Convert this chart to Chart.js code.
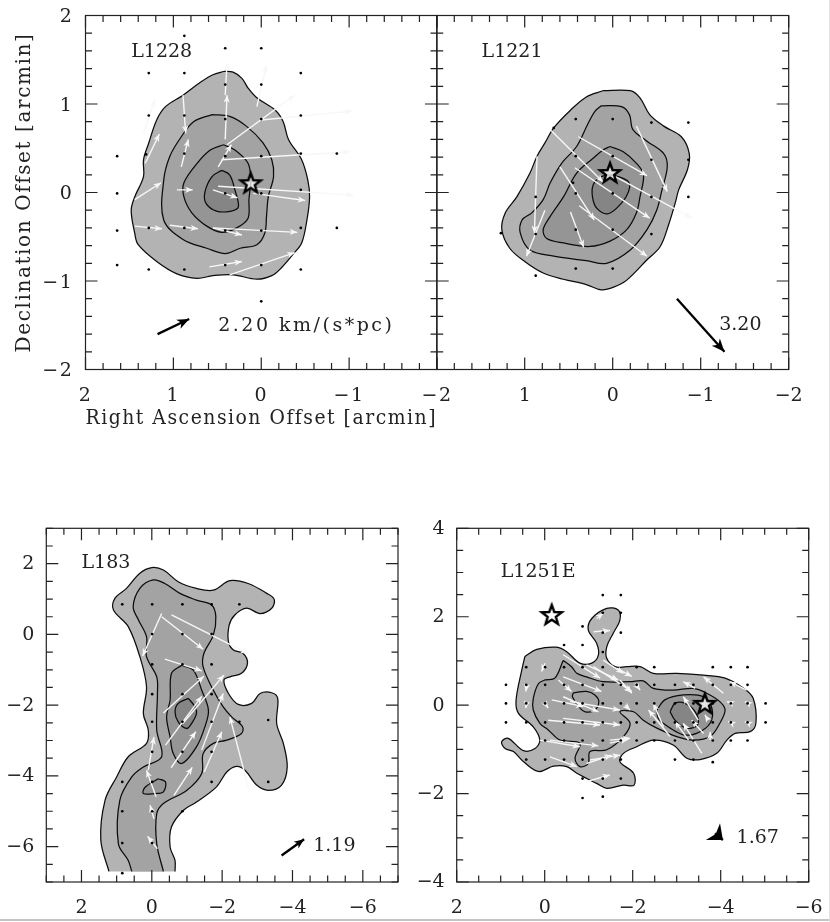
<!DOCTYPE html>
<html><head><meta charset="utf-8">
<style>
html,body{margin:0;padding:0;background:#fff;width:830px;height:922px;overflow:hidden}
canvas{position:absolute;display:block}
.edge{position:absolute;background:#c4c4c4}
</style>
<script src="https://cdn.jsdelivr.net/npm/chart.js@4"></script>
</head><body>
<div class="edge" style="left:0;top:919px;width:830px;height:2px"></div>
<div class="edge" style="left:829px;top:0;width:1px;height:922px;background:#e4e4e4"></div>
<canvas id="a" width="470" height="440" style="left:0;top:0"></canvas>
<canvas id="b" width="430" height="440" style="left:400px;top:0"></canvas>
<canvas id="c" width="420" height="422" style="left:0;top:500px"></canvas>
<canvas id="d" width="420" height="422" style="left:410px;top:500px"></canvas>
<script>
// ---------- L1228 ----------
const L1228_level1=[[.42,1.37],[.32,1.36],[.22,1.29],[.15,1.18],[.05,1.07],[-.16,.93],[-.25,.80],[-.31,.60],[-.46,.37],[-.53,.14],[-.55,-.05],[-.52,-.31],[-.46,-.57],[-.36,-.70],[-.23,-.85],[-.12,-.94],[.05,-.98],[.32,-.93],[.55,-.94],[.73,-.97],[.96,-.92],[1.19,-.78],[1.40,-.59],[1.44,-.46],[1.48,-.20],[1.44,-.05],[1.34,.18],[1.34,.37],[1.28,.56],[1.19,.82],[1.09,.97],[.89,1.10],[.70,1.24],[.55,1.33],[.42,1.37]];
const L1228_level2=[[.56,.88],[.36,.86],[.17,.75],[-.02,.56],[-.12,.37],[-.14,.18],[-.08,-.05],[-.06,-.27],[-.04,-.46],[.05,-.59],[.24,-.63],[.41,-.69],[.62,-.63],[.89,-.53],[1.11,-.31],[1.11,.14],[1.04,.41],[.91,.63],[.77,.80],[.56,.88]];
const L1228_level3=[[.43,.54],[.30,.48],[.15,.33],[.12,.14],[.14,-.08],[.15,-.29],[.28,-.40],[.45,-.45],[.62,-.38],[.79,-.23],[.88,-.05],[.88,.11],[.73,.33],[.58,.48],[.43,.54]];
const L1228_level4=[[.45,.25],[.36,.20],[.30,.03],[.26,-.16],[.34,-.21],[.51,-.21],[.63,-.12],[.64,.01],[.56,.18],[.45,.25]];
const L1228_dots=[[1.64,.41],[1.64,-.01],[1.64,-.43],[1.64,-.82],[1.28,1.35],[1.28,.87],[1.31,.43],[1.28,-.40],[1.28,-.87],[.875,1.77],[.875,1.35],[.875,.87],[.875,.44],[.875,-.40],[.875,-.87],[.41,1.63],[.41,1.22],[.41,.83],[.41,.41],[.41,-.01],[.41,-.43],[.41,-.82],[0,1.63],[0,1.22],[0,.83],[0,.41],[0,-.01],[0,-.43],[0,-.82],[0,-1.23],[-.45,1.35],[-.45,.87],[-.45,.44],[-.45,.03],[-.45,-.40],[-.45,-.87],[-.86,.44],[-.86,-.40]];
const L1228_arrows=[[1.34,.67,1.21,1.05],[1.32,.33,1.16,.66],[.89,1.10,.86,.67],[.91,.29,.83,.60],[.41,.60,.39,1.10],[.41,1.10,.39,1.46],[.39,.54,-.38,1.10],[.49,.29,.34,.54],[.05,.97,-.06,1.44],[0,.82,-1.03,.92],[.45,.37,-1.01,.46],[.49,.07,-1.05,-.03],[.55,.03,.27,-.06],[.09,-.01,-.50,-.09],[1.44,-.08,1.14,.11],[.96,.03,.78,.03],[1.44,-.38,1.13,-.41],[1.04,-.37,.72,-.41],[.55,-.40,.22,-.48],[.55,-.40,-.41,-.45],[.59,-.84,.22,-.78],[.36,-.93,-.38,-.68]];
const L1228_stars=[[.12,.105]];
const L1228_scale=[1.18,-1.60,.82,-1.43];
// ---------- L1221 ----------
const L1221_level1=[[.11,1.15],[-.20,1.15],[-.31,1.07],[-.42,.88],[-.58,.75],[-.78,.63],[-.87,.44],[-.85,.26],[-.75,.03],[-.71,-.12],[-.64,-.35],[-.54,-.61],[-.39,-.76],[-.16,-.99],[-.01,-1.07],[.13,-1.10],[.30,-1.04],[.56,-.98],[.79,-.91],[1.0,-.78],[1.17,-.63],[1.26,-.42],[1.22,-.23],[1.09,-.05],[.94,.22],[.86,.41],[.77,.56],[.67,.73],[.48,.93],[.30,1.08],[.11,1.15]];
const L1221_level2=[[.13,.98],[-.10,.97],[-.19,.88],[-.23,.71],[-.39,.58],[-.58,.44],[-.62,.29],[-.56,.03],[-.50,-.20],[-.39,-.42],[-.20,-.65],[.07,-.80],[.30,-.77],[.67,-.72],[.94,-.65],[1.05,-.46],[1.03,-.31],[.92,-.23],[.79,-.08],[.71,.11],[.58,.33],[.41,.52],[.28,.78],[.20,.92],[.13,.98]];
const L1221_level3=[[.03,.52],[-.12,.46],[-.27,.33],[-.35,.20],[-.31,-.05],[-.27,-.23],[-.16,-.42],[.03,-.55],[.26,-.61],[.56,-.57],[.75,-.52],[.79,-.42],[.71,-.27],[.56,-.05],[.41,.22],[.22,.39],[.11,.48],[.03,.52]];
const L1221_level4=[[-.01,.20],[-.18,.12],[-.18,.01],[-.10,-.12],[.05,-.24],[.18,-.18],[.23,-.05],[.22,.09],[.13,.18],[-.01,.20]];
const L1221_dots=[[.42,.83],[0,.83],[-.44,.79],[-.86,.79],[.42,.41],[0,.41],[-.44,.37],[-.86,.37],[.875,-.05],[.42,-.01],[0,-.01],[-.44,-.05],[-.86,-.05],[.875,-.47],[1.27,-.46],[.42,-.42],[0,-.42],[-.44,-.47],[.875,-.94],[.42,-.86],[0,-.86],[.67,.73],[.45,.11]];
const L1221_arrows=[[.70,.70,.11,.12],[.39,.63,-.39,.19],[-.27,.75,-.62,.01],[.43,.28,-.42,-.29],[-.03,.18,-.90,-.29],[.60,.29,.21,-.31],[.38,-.15,-.39,-.72],[.48,-.22,.33,-.62],[.86,.41,.89,-.46],[.77,-.20,.98,-.72]];
const L1221_stars=[[.03,.22]];
const L1221_scale=[-.73,-1.20,-1.27,-1.80];
// ---------- L183 ----------
const L183_level1=[[-.66,-6.70],[-.66,-6.39],[-.52,-6.01],[-.56,-5.44],[-.90,-4.97],[-1.27,-4.74],[-1.84,-4.31],[-2.13,-3.89],[-2.41,-3.73],[-2.65,-3.84],[-2.98,-4.26],[-3.31,-4.41],[-3.69,-4.26],[-3.85,-3.75],[-3.74,-3.08],[-3.55,-2.52],[-3.58,-1.81],[-3.41,-1.65],[-3.08,-1.67],[-2.84,-1.95],[-2.46,-1.98],[-2.18,-1.67],[-2.05,-1.29],[-2.22,-1.20],[-2.55,-1.10],[-2.72,-.82],[-2.60,-.54],[-2.32,-.44],[-2.18,-.21],[-2.20,.26],[-2.36,.55],[-2.70,.74],[-3.08,.59],[-3.41,.74],[-3.48,.99],[-3.27,1.16],[-2.74,1.44],[-2.22,1.52],[-1.75,1.25],[-1.27,1.30],[-.75,1.49],[-.33,1.82],[0,1.89],[.34,1.73],[.72,1.30],[1.05,1.02],[1.09,.69],[.67,.22],[.34,-.63],[.15,-1.48],[.24,-2.24],[.10,-2.71],[.15,-3.08],[.67,-3.46],[1.00,-4.03],[1.33,-4.69],[1.45,-5.82],[1.22,-6.70]];
const L183_level2=[[-.33,-6.70],[-.14,-5.92],[-.14,-5.07],[-.33,-4.78],[-.99,-4.41],[-1.42,-3.93],[-1.46,-3.37],[-1.75,-3.08],[-2.13,-2.99],[-2.55,-2.80],[-2.58,-2.61],[-2.27,-2.33],[-2.03,-2.05],[-1.75,-1.58],[-1.46,-.92],[-1.48,-.54],[-1.75,-.02],[-1.82,.50],[-1.70,.83],[-1.27,.97],[-.80,1.16],[-.37,1.44],[-.04,1.54],[.34,1.30],[.53,.78],[.38,.41],[.15,-.07],[.15,-.63],[-.14,-1.20],[-.16,-1.67],[-.14,-2.71],[-.28,-3.46],[.24,-3.75],[.57,-4.03],[.91,-4.69],[.95,-5.92],[.67,-6.39],[.57,-6.70]];
const L183_level3=[[-.85,-.87],[-1.18,-1.01],[-1.42,-1.58],[-1.61,-2.14],[-1.51,-2.61],[-1.27,-3.18],[-.85,-3.65],[-.61,-3.37],[-.52,-2.90],[-.42,-2.33],[-.52,-1.86],[-.56,-1.10],[-.85,-.87]];
const L183_level3b=[[-.18,-4.08],[-.39,-4.17],[-.33,-4.45],[-.09,-4.50],[.24,-4.50],[.19,-4.32],[-.18,-4.08]];
const L183_level4=[[-1.04,-1.81],[-1.23,-2.05],[-1.27,-2.24],[-1.13,-2.52],[-.99,-2.66],[-.75,-2.47],[-.66,-2.19],[-.75,-1.95],[-1.04,-1.81]];
const L183_dots=[[.84,.85],[-.01,.85],[-.87,.85],[-1.70,.85],[-2.49,.85],[-.01,.01],[-.87,.01],[-1.70,.01],[-.01,-.85],[-.87,-.85],[-1.70,-.85],[-.01,-1.69],[-.87,-1.69],[-1.70,-1.69],[-.01,-2.47],[-.87,-2.47],[-1.70,-2.47],[-2.49,-2.47],[-3.31,-2.42],[-.01,-3.32],[-.87,-3.32],[-1.70,-3.32],[.84,-4.17],[-.01,-4.17],[-1.70,-4.17],[-3.31,-4.17],[.84,-5.0],[-.01,-5.0],[-.87,-5.0],[.84,-5.9],[-.01,-5.9],[.84,-6.75]];
const L183_arrows=[[-.28,.59,.26,-.61],[-.28,.50,-1.46,-.42],[-.56,.55,-2.74,-.54],[-.37,-.70,-1.42,-1.03],[-.33,-2.22,-1.48,-1.18],[-.39,-3.13,-1.42,-1.75],[-.88,-2.52,-2.05,-1.15],[-.55,-3.77,-1.25,-2.75],[-1.42,-3.27,-2.03,-1.67],[-1.49,-3.89,-1.99,-2.75],[-.63,-4.55,-1.15,-3.76],[-2.74,-4.31,-2.22,-2.33],[-.12,-4.59,.15,-3.84],[.10,-3.84,-.06,-2.90],[-.06,-5.21,.05,-4.83],[-.16,-6.06,.12,-5.71]];
const L183_scale=[-3.69,-6.25,-4.33,-5.79];
// ---------- L1251E ----------
const L1251E_level1=[[.45,1.10],[.18,1.26],[-.27,1.31],[-.50,1.21],[-.80,.95],[-1.07,.95],[-1.22,1.13],[-1.18,1.40],[-.99,1.70],[-1.07,1.96],[-1.41,2.19],[-1.67,2.15],[-1.71,1.93],[-1.56,1.63],[-1.41,1.32],[-1.41,1.06],[-1.60,.87],[-1.86,.87],[-2.17,.87],[-2.47,.72],[-3.0,.72],[-3.61,.68],[-4.10,.61],[-4.52,.38],[-4.74,.15],[-4.80,-.41],[-4.67,-.60],[-4.33,-.64],[-4.14,-.79],[-3.91,-1.09],[-3.53,-1.23],[-3.23,-1.20],[-2.92,-.90],[-2.47,-.79],[-2.09,-.94],[-1.79,-1.09],[-1.71,-1.28],[-2.02,-1.54],[-2.03,-1.81],[-1.79,-1.81],[-1.41,-1.88],[-1.18,-1.77],[-.73,-1.54],[-.50,-1.39],[-.20,-1.38],[.14,-1.50],[.48,-1.28],[.71,-1.05],[.90,-.98],[.98,-.83],[.83,-.75],[.48,-1.03],[.22,-.98],[.11,-.79],[.26,-.49],[.60,-.18],[.65,.12],[.52,.80],[.45,1.10]];
const L1251E_level2=[[-.42,1.01],[-.61,.87],[-.73,.72],[-.95,.64],[-1.33,.53],[-1.94,.53],[-2.24,.55],[-2.47,.38],[-2.92,.34],[-3.38,.38],[-3.68,.27],[-3.98,.08],[-4.10,-.11],[-3.98,-.41],[-3.76,-.71],[-3.38,-.79],[-3.0,-.71],[-2.55,-.52],[-2.24,-.34],[-2.02,-.15],[-1.71,-.15],[-1.94,-.41],[-1.79,-.71],[-1.41,-1.01],[-1.03,-1.05],[-.99,-1.32],[-.80,-1.39],[-.69,-1.20],[-.80,-.86],[-.35,-.79],[-.08,-.56],[.11,-.41],[.26,-.11],[.26,.15],[.14,.49],[-.01,.57],[-.23,.61],[-.42,1.01]];
const L1251E_level2b=[[-.65,.28],[-.95,.31],[-1.14,.23],[-1.23,.08],[-1.14,-.11],[-.92,-.15],[-.77,-.03],[-.63,.19],[-.65,.28]];
const L1251E_level3=[[-2.55,-.11],[-2.73,.12],[-3.15,.23],[-3.61,.19],[-3.80,-.07],[-3.76,-.41],[-3.45,-.64],[-3.15,-.67],[-2.85,-.52],[-2.58,-.30],[-2.55,-.11]];
const L1251E_level4=[[-2.85,-.15],[-2.96,.04],[-3.19,.04],[-3.42,-.15],[-3.49,-.41],[-3.34,-.52],[-3.15,-.49],[-2.96,-.34],[-2.85,-.15]];
const L1251E_dots=[[-1.32,2.49],[-1.73,2.49],[-1.32,2.09],[-1.73,2.09],[-.86,1.78],[-1.32,1.64],[-1.73,1.64],[-.44,1.36],[-.86,1.36],[-1.32,1.2],
[.42,.86],[-.01,.86],[-.44,.86],[-.86,.86],[-1.32,.86],[-2.09,.86],[-2.49,.86],[-3.82,.86],[-4.23,.86],[-4.61,.86],
[.88,.46],[.42,.46],[-.01,.46],[-.44,.46],[-.86,.46],[-1.32,.46],[-1.73,.46],[-2.09,.46],[-2.49,.46],[-2.96,.46],[-3.38,.46],[-3.82,.46],[-4.23,.46],[-4.61,.46],
[.88,.04],[.42,.04],[-.01,.04],[-.44,.04],[-.86,.04],[-1.32,.04],[-1.73,.04],[-2.09,.04],[-2.49,.04],[-2.96,.04],[-3.38,.04],[-3.82,.04],[-4.23,.04],[-4.61,.04],[-5.02,.04],
[.88,-.39],[.42,-.39],[-.01,-.39],[-.44,-.39],[-.86,-.39],[-1.32,-.39],[-1.73,-.39],[-2.09,-.39],[-2.49,-.39],[-2.96,-.39],[-3.38,-.39],[-3.82,-.39],[-4.23,-.39],[-4.61,-.39],[-5.02,-.39],
[-.01,-.80],[-.44,-.80],[-.86,-.80],[-1.32,-.80],[-1.73,-.80],[-2.09,-.80],[-2.49,-.80],[-2.96,-.80],[-3.38,-.80],[-3.82,-.80],[-4.23,-.80],[-4.61,-.80],
[.42,-1.23],[-.01,-1.23],[-.44,-1.23],[-.86,-1.23],[-1.32,-1.23],[-1.73,-1.23],[-2.96,-1.23],[-3.38,-1.23],[-3.82,-1.29],
[-.86,-1.66],[-1.32,-1.66],[-1.73,-1.66],[-.86,-2.1],[-1.32,-2.07]];
const L1251E_arrows=[[-.42,1.14,-1.26,.61],[-.95,.91,-1.67,.57],[-.42,.64,-1.29,.31],[-.31,.57,-.61,.31],[-.42,.19,-1.22,-.15],[-.16,.12,-.88,-.03],[-.58,.08,-1.71,-.11],[-.08,-.34,-1.26,-.45],[-.42,-.30,-1.71,-.45],[.11,-.79,-.80,-.94],[-.12,-.79,-1.22,-.92],[-.12,-1.17,-.73,-1.39],[-1.03,-1.24,-1.71,-1.13],[-1.48,-.79,-1.94,-.75],[-.01,.95,.07,.76],[.41,.42,.43,.31],[.41,.04,.43,-.07],[-.01,.04,-.08,-.07],[-1.11,.87,-1.98,.31],[-1.33,1.02,-1.79,.72],[-1.64,.83,-1.98,.65],[-1.48,-.86,-1.90,-.77],[-.95,-1.32,-1.52,-1.13],[-.95,-1.73,-1.48,-1.58],[-1.11,1.66,-1.48,1.69],[-1.18,1.96,-1.33,2.08],
[-4.06,.27,-3.61,.64],[-4.59,.34,-4.21,.53],[-3.42,.38,-3.15,.53],[-3.57,-1.09,-3.15,-.41],[-3.27,-.79,-2.96,-.37],[-3.49,-.34,-3.15,.19],[-2.85,-.71,-2.36,-.11],[-2.70,-.49,-2.47,.04],[-3.61,-.64,-3.34,-.34],[-3.76,-.79,-3.76,-.60],[-3.72,-.34,-3.64,-.22],[-4.21,-.94,-4.21,-.79],[-4.25,.04,-4.14,.08],[-4.62,.04,-4.55,.08],[-4.25,-.41,-4.17,-.37],[-4.63,-.41,-4.55,-.37],[-1.71,.57,-1.98,.27],[-2.05,.49,-2.17,.34],[-1.83,0,-1.94,-.11],[-1.71,-.79,-1.90,-.75]];
const L1251E_stars=[[-.16,2.04],[-3.64,.03]];
const L1251E_scale=[-3.87,-2.90,-4.05,-3.05];
// ---------- axes ----------
const ticksAB_x=[2,1,0,-1,-2];
const ticksB_x=[1,0,-1,-2];
const ticksAB_y=[-2,-1,0,1,2];
const ticksC=[2,0,-2,-4,-6];
const ticksD_x=[2,0,-2,-4,-6];
const ticksD_y=[-4,-2,0,2,4];

const levelColors=['#b3b3b3','#a3a3a3','#959595','#858585'];
const FONT='"DejaVu Serif"';
const INK='#222222';

const starImg=(()=>{const c=document.createElement('canvas');c.width=c.height=28;const g=c.getContext('2d');
 g.translate(14,14.5);g.beginPath();for(let i=0;i<10;i++){const r=i%2?4.3:10.5,t=-Math.PI/2+i*Math.PI/5;g[i?'lineTo':'moveTo'](r*Math.cos(t),r*Math.sin(t));}
 g.closePath();g.fillStyle='rgba(255,255,255,.75)';g.fill();g.lineWidth=2.4;g.lineJoin='miter';g.strokeStyle='#000';g.stroke();return c;})();

const xy=a=>a.map(p=>({x:p[0],y:p[1]}));
function contour(pts,level,order,color){return{data:xy(pts),showLine:true,fill:'shape',backgroundColor:color||levelColors[level],borderColor:'#0c0c0c',borderWidth:1.25,tension:.35,pointRadius:0,order:order};}
function arrow(a,color,width,head,order,spread){return{data:[{x:a[0],y:a[1]},{x:a[2],y:a[3]}],showLine:true,fill:false,borderColor:color,borderWidth:width,tension:0,pointRadius:0,order:order,arrowHead:{color:color,len:head,spread:spread||.42}};}
const dots=p=>({data:xy(p),showLine:false,pointRadius:1.35,pointBackgroundColor:'#000',pointBorderWidth:0,order:20});
const stars=p=>({data:xy(p),showLine:false,pointStyle:starImg,pointRadius:10,order:5});

const panelPlugin={id:'panel',
 beforeDraw(ch,_,o){ch.ctx.letterSpacing=o.spacing||'0px';},
 afterDatasetDraw(ch,args){const h=ch.data.datasets[args.index].arrowHead;if(!h)return;
  const [p,q]=args.meta.data;const t=Math.atan2(q.y-p.y,q.x-p.x),c=ch.ctx,L=h.len,W=L*h.spread;
  c.save();c.translate(q.x,q.y);c.rotate(t);c.beginPath();c.moveTo(0,0);c.lineTo(-L,W);c.lineTo(-L*.72,0);c.lineTo(-L,-W);c.closePath();c.fillStyle=h.color;c.fill();c.restore();},
 afterDraw(ch,_,o){const c=ch.ctx,a=ch.chartArea,X=ch.scales.x,Y=ch.scales.y;
  c.save();c.strokeStyle='#222';c.lineWidth=1.2;c.strokeRect(a.left,a.top,a.right-a.left,a.bottom-a.top);
  const tick=(s,minor,major,fn)=>{for(let v=s.min;v<=s.max+1e-6;v+=minor){const isMaj=Math.abs(v/major-Math.round(v/major))<1e-6;fn(s.getPixelForValue(v),isMaj?12:6.5);}};
  c.beginPath();
  tick(X,o.minor,o.major,(p,l)=>{c.moveTo(p,a.top);c.lineTo(p,a.top+l);c.moveTo(p,a.bottom);c.lineTo(p,a.bottom-l);});
  tick(Y,o.minor,o.major,(p,l)=>{c.moveTo(a.left,p);c.lineTo(a.left+l,p);c.moveTo(a.right,p);c.lineTo(a.right-l,p);});
  c.stroke();
  c.fillStyle=INK;c.textBaseline='middle';c.textAlign='left';
  for(const t of o.labels){c.font=(t.size||19)+'px '+FONT;c.letterSpacing=t.spacing||'0px';c.fillText(t.text,X.getPixelForValue(t.x),Y.getPixelForValue(t.y));}
  c.restore();}};

function fmt(v){return v<0?'\u2212'+(-v):String(v);}
function make(id,cfg){
 const xAxis={type:'linear',reverse:true,min:cfg.xr[0],max:cfg.xr[1],
  afterBuildTicks:s=>{s.ticks=cfg.xt.map(v=>({value:v}));},
  afterFit:s=>{s.height=cfg.xh;s.paddingLeft=0;s.paddingRight=0;},
  grid:{display:false,drawTicks:false},border:{display:false},
  ticks:{autoSkip:false,maxRotation:0,minRotation:0,padding:cfg.xpad||15,color:INK,font:{family:FONT,size:19},callback:fmt},
  title:cfg.xtitle?{display:true,text:cfg.xtitle,color:INK,font:{family:FONT,size:20},padding:{top:0,bottom:9}}:{display:false}};
 const yAxis={type:'linear',min:cfg.yr[0],max:cfg.yr[1],
  afterBuildTicks:s=>{s.ticks=cfg.yt.map(v=>({value:v}));},
  afterFit:s=>{s.width=cfg.yw;s.paddingTop=0;s.paddingBottom=0;},
  grid:{display:false,drawTicks:false},border:{display:false},
  ticks:{display:cfg.yLabels!==false,autoSkip:false,maxRotation:0,minRotation:0,padding:12,labelOffset:cfg.yoff||0,color:INK,font:{family:FONT,size:19},callback:fmt},
  title:cfg.ytitle?{display:true,text:cfg.ytitle,color:INK,font:{family:FONT,size:20},padding:{top:13,bottom:0}}:{display:false}};
 return new Chart(document.getElementById(id),{type:'scatter',data:{datasets:cfg.datasets},plugins:[panelPlugin],
  options:{responsive:false,animation:false,events:[],devicePixelRatio:1,
   layout:{padding:cfg.pad},scales:{x:xAxis,y:yAxis},
   plugins:{legend:{display:false},tooltip:{enabled:false},panel:{minor:cfg.minor,major:cfg.major,labels:cfg.labels,spacing:cfg.spacing}}}});
}
const WHITE='#f7f7f7';
const arrows=list=>list.map(a=>arrow(a,WHITE,1.4,7.5,30));
const scaleArrow=(a,l,s)=>arrow(a,'#000',2.3,l||12,6,s);

make('a',{xr:[-2,2],yr:[-2,2],xt:ticksAB_x,yt:ticksAB_y,xh:70.5,yw:85.5,yoff:2,pad:{top:15.5,right:33,left:0,bottom:0},minor:.2,major:1,spacing:'1.6px',
 xtitle:'Right Ascension Offset [arcmin]',ytitle:'Declination Offset [arcmin]',
 labels:[{text:'L1228',x:1.48,y:1.59},{text:'2.20 km/(s*pc)',x:.49,y:-1.51,spacing:'2.5px'}],
 datasets:[contour(L1228_level1,0,100),contour(L1228_level2,1,90),contour(L1228_level3,2,80),contour(L1228_level4,3,70),...arrows(L1228_arrows),dots(L1228_dots),stars(L1228_stars),scaleArrow(L1228_scale)]});
make('b',{xr:[-2,2],yr:[-2,2],xt:ticksB_x,yt:ticksAB_y,xh:70.5,yw:36.7,yLabels:false,pad:{top:15.5,right:41.3,left:0,bottom:0},minor:.2,major:1,
 labels:[{text:'L1221',x:1.49,y:1.59},{text:'3.20',x:-1.21,y:-1.50}],
 datasets:[contour(L1221_level1,0,100),contour(L1221_level2,1,90),contour(L1221_level3,2,80),contour(L1221_level4,3,70),...arrows(L1221_arrows),dots(L1221_dots),stars(L1221_stars),scaleArrow(L1221_scale,13)]});
make('c',{xr:[-7,3],yr:[-7,3],xt:ticksC,yt:ticksC,xh:40,yw:46.3,yoff:.5,pad:{top:28.3,right:22,left:0,bottom:0},minor:.5,major:2,
 labels:[{text:'L183',x:2.0,y:2.01},{text:'1.19',x:-4.59,y:-5.99}],
 datasets:[contour(L183_level1,0,100),contour(L183_level2,1,90),contour(L183_level3,2,80),contour(L183_level3b,2,79),contour(L183_level4,3,70),...arrows(L183_arrows),dots(L183_dots),scaleArrow(L183_scale,10)]});
make('d',{xr:[-6,2],yr:[-4,4],xt:ticksD_x,yt:ticksD_y,xh:40,yw:46.7,yoff:.5,pad:{top:28.3,right:21.3,left:0,bottom:0},minor:.5,major:2,
 labels:[{text:'L1251E',x:1.0,y:3.0},{text:'1.67',x:-4.36,y:-3.01}],
 datasets:[contour(L1251E_level1,0,100),contour(L1251E_level2,1,90),contour(L1251E_level2b,1,85),contour(L1251E_level3,2,80),contour(L1251E_level4,3,70),...arrows(L1251E_arrows),dots(L1251E_dots),stars(L1251E_stars),scaleArrow(L1251E_scale,13,.85)]});
</script>
</body></html>
